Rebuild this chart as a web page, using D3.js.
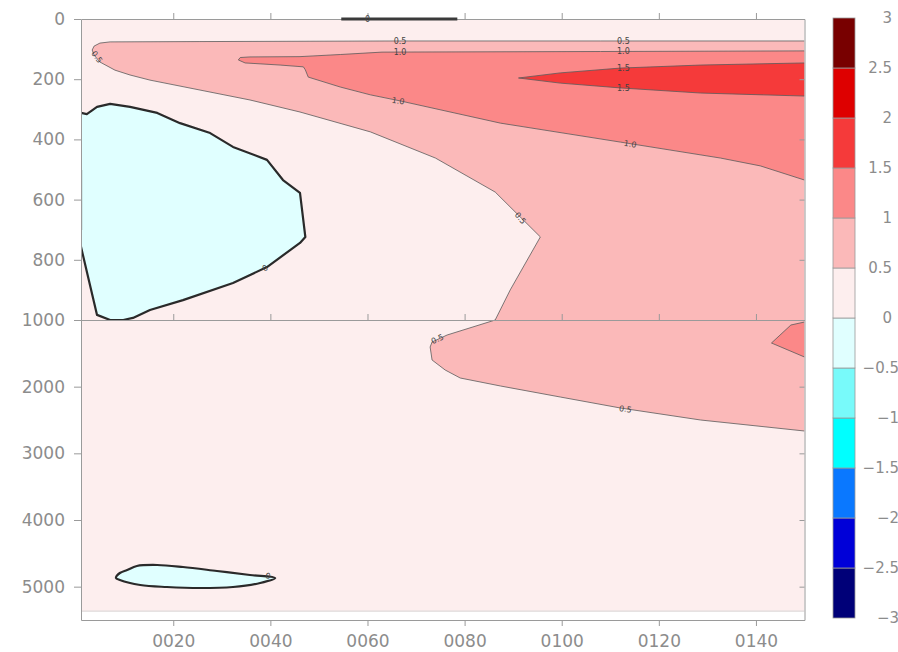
<!DOCTYPE html>
<html>
<head>
<meta charset="utf-8">
<script src="https://cdn.jsdelivr.net/npm/d3@7"></script>
<style>
  body { margin: 0; background: #fff; }
  svg { display: block; font-family: "DejaVu Sans", sans-serif; }
</style>
</head>
<body>
<svg id="chart" width="898" height="652"></svg>
<script>
// contour levels and the fill of each band between them
const levels = [-3, -2.5, -2, -1.5, -1, -0.5, 0, 0.5, 1, 1.5, 2, 2.5, 3];
const levelColors = ['#000078', '#0000d8', '#0a78ff', '#00ffff', '#78fafa', '#e0ffff',
  '#fdeeee', '#fbb9b9', '#fb8888', '#f53a3a', '#de0000', '#780000'];

const xTicks = [20, 40, 60, 80, 100, 120, 140];
const yTicksTop = [0, 200, 400, 600, 800, 1000];
const yTicksBottom = [2000, 3000, 4000, 5000];
const yearRange = [1, 150];
const maxDepth = 5375;

// contour boundaries: [year, depth]
const zone05 = [
  [150, 73], [108, 73], [66.7, 73], [25.5, 75], [7, 76], [4.9, 80], [3.7, 90], [3.3, 103],
  [3.7, 120], [4.9, 143], [8, 170], [11.1, 186], [15.2, 203], [25.5, 236], [35.8, 269],
  [46.1, 309], [60.6, 375], [74, 462], [86.3, 575], [95.6, 724], [89.4, 900], [86.3, 1000],
  [76.4, 1225], [73.3, 1330], [72.9, 1405], [73.3, 1600], [76, 1750], [79.1, 1870],
  [87.4, 1990], [99.7, 2155], [112.1, 2320], [128.6, 2500], [150, 2665]
];
const zone10 = [
  [150, 106], [108, 108], [63, 110], [54.4, 118], [46.1, 125], [35.8, 126], [33.8, 128],
  [33.4, 136], [34.8, 146], [42, 153], [46.8, 159], [47.2, 169], [47.8, 193], [54.4, 226],
  [60.6, 252], [66.7, 272], [87.4, 346], [112.1, 409], [132.7, 462], [140.9, 488], [150, 535]
];
const zone10Deep = [[150, 1030], [147.2, 1075], [143.2, 1345], [150, 1555]];
const zone15 = [
  [150, 146], [128.6, 153], [112.1, 163], [99.7, 179], [91.1, 196],
  [99.7, 213], [112.1, 229], [128.6, 246], [150, 256]
];
const zoneNegTop = [
  [1, 312], [2.2, 316], [4.3, 292], [7, 282], [11.1, 292], [16.7, 312], [21.4, 346],
  [27.6, 379], [32.3, 425], [39.3, 468], [42.6, 535], [46.1, 578], [47.2, 724], [46.1, 744],
  [39.3, 824], [32.3, 877], [22, 934], [15.2, 967], [11.7, 993], [9.7, 1000], [7, 1000],
  [4.3, 983], [1, 757]
];
const zoneNegDeep = [
  [8.2, 4870], [9, 4795], [10.5, 4750], [12.5, 4690], [16.7, 4675], [22, 4705], [29, 4765],
  [35.8, 4825], [41, 4870], [37.9, 4945], [32.3, 5005], [25.5, 5020], [18.7, 5005],
  [13.2, 4975], [9, 4900]
];
const zeroEdge = [[1, 502], [1, 701]];
const zeroSurface = [[54.6, 0], [78.5, 0]];

const contourLabels = [
  { year: 66.7, depth: 73, text: '0.5', angle: 0 },
  { year: 66.7, depth: 110, text: '1.0', angle: 0 },
  { year: 112.7, depth: 73, text: '0.5', angle: 0 },
  { year: 112.7, depth: 106, text: '1.0', angle: 0 },
  { year: 112.7, depth: 163, text: '1.5', angle: 0 },
  { year: 112.7, depth: 229, text: '1.5', angle: 0 },
  { year: 66.3, depth: 272, text: '1.0', angle: 8 },
  { year: 114.1, depth: 415, text: '1.0', angle: 8 },
  { year: 91.5, depth: 661, text: '0.5', angle: 50 },
  { year: 4.3, depth: 126, text: '0.5', angle: 55 },
  { year: 74.4, depth: 1285, text: '0.5', angle: -25 },
  { year: 113.1, depth: 2335, text: '0.5', angle: 8 },
  { year: 60, depth: 0, text: '0', angle: 0 },
  { year: 38.9, depth: 827, text: '0', angle: -30 },
  { year: 39.5, depth: 4840, text: '0', angle: 10 }
];

const svg = d3.select('#chart');

const x = d3.scaleLinear().domain(yearRange).range([81, 804.5]);
// depth: 0-1000 stretched over the top half, 1000-5500 over the bottom half
const y = d3.scaleLinear().domain([0, 1000, 5500]).range([19, 320, 620]);
const band = (v) => levelColors[levels.indexOf(v)];

const line = d3.line().x((d) => x(d[0])).y((d) => y(d[1]));
const smooth = d3.line().x((d) => x(d[0])).y((d) => y(d[1])).curve(d3.curveCatmullRomClosed);

svg.append('clipPath').attr('id', 'plot-clip')
  .append('rect')
  .attr('x', x(yearRange[0])).attr('y', y(0))
  .attr('width', x(yearRange[1]) - x(yearRange[0]))
  .attr('height', y(maxDepth) - y(0));

const plot = svg.append('g').attr('clip-path', 'url(#plot-clip)');

// background band 0..0.5
plot.append('rect')
  .attr('x', x(yearRange[0])).attr('y', y(0))
  .attr('width', x(yearRange[1]) - x(yearRange[0]))
  .attr('height', y(maxDepth) - y(0))
  .attr('fill', band(0));

const zones = [
  { pts: zone05, level: 0.5 },
  { pts: zone10, level: 1 },
  { pts: zone10Deep, level: 1 },
  { pts: zone15, level: 1.5 },
  { pts: zoneNegTop, level: -0.5 }
];

zones.forEach((z) => {
  plot.append('path').attr('d', line(z.pts) + 'Z').attr('fill', band(z.level));
});
plot.append('path').attr('d', smooth(zoneNegDeep)).attr('fill', band(-0.5));

// contour lines
[zone05, zone10, zone10Deep, zone15].forEach((pts) => {
  plot.append('path').attr('d', line(pts))
    .attr('fill', 'none').attr('stroke', '#5a5a5a').attr('stroke-width', 0.8);
});

// zero contours drawn thick
[zoneNegTop, zeroEdge].forEach((pts) => {
  plot.append('path').attr('d', line(pts))
    .attr('fill', 'none').attr('stroke', '#2a2a2a').attr('stroke-width', 2.2)
    .attr('stroke-linejoin', 'round');
});
plot.append('path').attr('d', smooth(zoneNegDeep))
  .attr('fill', 'none').attr('stroke', '#2a2a2a').attr('stroke-width', 2.2);

// bottom edge of the data
plot.append('line')
  .attr('x1', x(yearRange[0])).attr('x2', x(yearRange[1]))
  .attr('y1', y(maxDepth) - 0.5).attr('y2', y(maxDepth) - 0.5)
  .attr('stroke', '#cfcfcf').attr('stroke-width', 1);

// axes
function styleAxis(g) {
  g.selectAll('path.domain').attr('stroke', '#9a9a9a');
  g.selectAll('.tick line').attr('stroke', '#9a9a9a');
  g.selectAll('.tick text')
    .attr('fill', '#8c8c8c')
    .attr('font-size', 17)
    .attr('font-family', '"DejaVu Sans", sans-serif');
}

svg.append('g')
  .attr('transform', `translate(${x(yearRange[0])},0)`)
  .call(d3.axisLeft(y).tickValues(yTicksTop.concat(yTicksBottom))
    .tickSize(7).tickPadding(9).tickSizeOuter(0).tickFormat(d3.format('d')))
  .call(styleAxis);

svg.append('g')
  .attr('transform', `translate(${x(yearRange[1])},0)`)
  .call(d3.axisLeft(y).tickValues(yTicksTop.concat(yTicksBottom))
    .tickSize(5).tickSizeOuter(0).tickFormat(''))
  .call(styleAxis);

svg.append('g')
  .attr('transform', `translate(0,${y(0)})`)
  .call(d3.axisTop(x).tickValues(xTicks).tickSize(6).tickSizeOuter(0).tickFormat(''))
  .call(styleAxis);

svg.append('g')
  .attr('transform', `translate(0,${y(1000)})`)
  .call(d3.axisTop(x).tickValues(xTicks).tickSize(6).tickSizeOuter(0).tickFormat(''))
  .call(styleAxis);

svg.append('g')
  .attr('transform', `translate(0,${y(5500)})`)
  .call(d3.axisBottom(x).tickValues(xTicks).tickSize(6).tickPadding(9)
    .tickSizeOuter(0).tickFormat(d3.format('04d')))
  .call(styleAxis);

// zero contour lying on the surface, drawn over the top frame
svg.append('path').attr('d', line(zeroSurface))
  .attr('fill', 'none').attr('stroke', '#3a3a3a').attr('stroke-width', 3);

svg.append('g').selectAll('text')
  .data(contourLabels)
  .enter()
  .append('text')
  .attr('transform', (d) => `translate(${x(d.year)},${y(d.depth)}) rotate(${d.angle})`)
  .attr('text-anchor', 'middle')
  .attr('dy', '0.35em')
  .attr('font-size', 8)
  .attr('fill', '#444')
  .text((d) => d.text);

// colour bar
const c = d3.scaleLinear().domain([-3, 3]).range([618, 18]);
const bar = svg.append('g');
bar.selectAll('rect')
  .data(levelColors)
  .enter()
  .append('rect')
  .attr('x', 833)
  .attr('width', 22)
  .attr('y', (d, i) => c(levels[i + 1]))
  .attr('height', (d, i) => c(levels[i]) - c(levels[i + 1]))
  .attr('fill', (d) => d)
  .attr('stroke', '#9a9a9a')
  .attr('stroke-width', 0.8);

bar.selectAll('text')
  .data(levels)
  .enter()
  .append('text')
  .attr('x', (d) => (d < 0 ? 899 : 892))
  .attr('y', (d) => c(d))
  .attr('dy', '0.35em')
  .attr('text-anchor', 'end')
  .attr('font-size', 15)
  .attr('fill', '#8c8c8c')
  .text((d) => d3.format('')(d).replace('-', '\u2212'));
</script>
</body>
</html>
